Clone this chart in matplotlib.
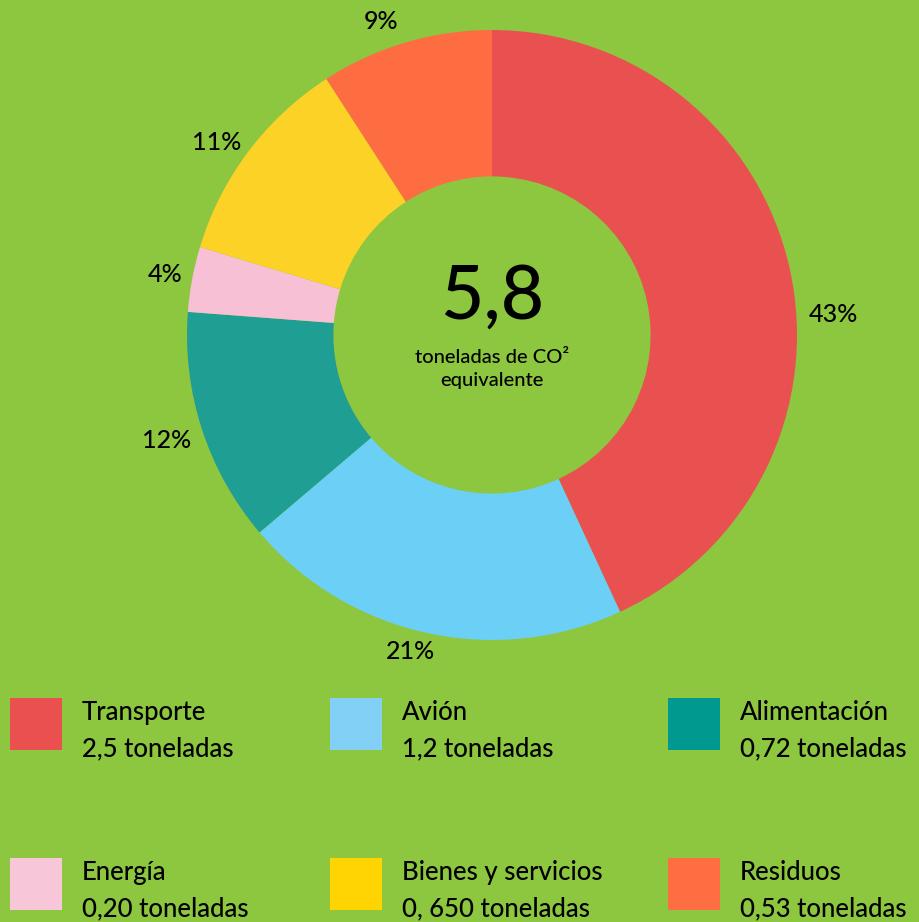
import numpy as np
import matplotlib
matplotlib.use("Agg")
import matplotlib.pyplot as plt
from matplotlib.patches import Rectangle

plt.rcParams['font.family'] = ['Lato', 'DejaVu Sans']

categorias = ['Transporte', 'Avión', 'Alimentación', 'Energía', 'Bienes y servicios', 'Residuos']
toneladas = [2.5, 1.2, 0.72, 0.20, 0.65, 0.53]
toneladas_txt = ['2,5 toneladas', '1,2 toneladas', '0,72 toneladas',
                 '0,20 toneladas', '0, 650 toneladas', '0,53 toneladas']
porcentajes = ['43%', '21%', '12%', '4%', '11%', '9%']
total = '5,8'

colores = ['#E95151', '#6CCFF6', '#1F9E94', '#F7C0D4', '#FCD226', '#FE6D42']
colores_leyenda = ['#EB5050', '#82D0F6', '#009990', '#F7C6D9', '#FFD400', '#FF6D42']
fondo = '#8DC63F'

W, H = 920, 922
fig = plt.figure(figsize=(W / 100, H / 100), dpi=100)
fig.patch.set_facecolor(fondo)

# pie centre (492, 335) px, radius 305 px
cx, cy, R = 492, 335, 305
half = 1.25 * R
ax = fig.add_axes([(cx - half) / W, (H - cy - half) / H, 2 * half / W, 2 * half / H])
ax.set_facecolor(fondo)
ax.axis('off')

wedges, _ = ax.pie(toneladas, colors=colores, startangle=90, counterclock=False,
                   radius=1, wedgeprops=dict(width=0.48, edgecolor='none'))
ax.set_xlim(-1.25, 1.25)
ax.set_ylim(-1.25, 1.25)
ax.set_aspect('equal')

# percentage labels, outside each wedge
offsets = [-9, -2, 0, 0, 2, 3]
dist = [1.12, 1.07, 1.12, 1.09, 1.1, 1.09]
for w, lab, off, d in zip(wedges, porcentajes, offsets, dist):
    ang = np.deg2rad((w.theta1 + w.theta2) / 2 + off)
    ax.text(d * np.cos(ang), d * np.sin(ang), lab, ha='center', va='center',
            fontsize=18, fontweight='medium', color='black')

# centre text
ax.text(0, 0.125, total, ha='center', va='center', fontsize=54,
        fontweight='medium', color='black')
ax.text(0, -0.075, 'toneladas de CO²', ha='center', va='center', fontsize=14.5,
        fontweight='medium')
ax.text(0, -0.15, 'equivalente', ha='center', va='center', fontsize=14.5,
        fontweight='medium')

# legend grid: 3 columns x 2 rows
col_x = [10, 330, 668]
row_y = [698, 858]
sq = 52
for i, (cat, txt, col) in enumerate(zip(categorias, toneladas_txt, colores_leyenda)):
    x = col_x[i % 3]
    y = row_y[i // 3]
    fig.patches.append(Rectangle((x / W, 1 - (y + sq) / H), sq / W, sq / H,
                                 transform=fig.transFigure, facecolor=col,
                                 edgecolor='none'))
    fig.text((x + 72) / W, 1 - (y + 14) / H, cat, ha='left', va='center',
             fontsize=18.5, fontweight='medium', color='black')
    fig.text((x + 72) / W, 1 - (y + 51) / H, txt, ha='left', va='center',
             fontsize=18.5, fontweight='medium', color='black')

fig.savefig('out.png', dpi=100, facecolor=fondo)
